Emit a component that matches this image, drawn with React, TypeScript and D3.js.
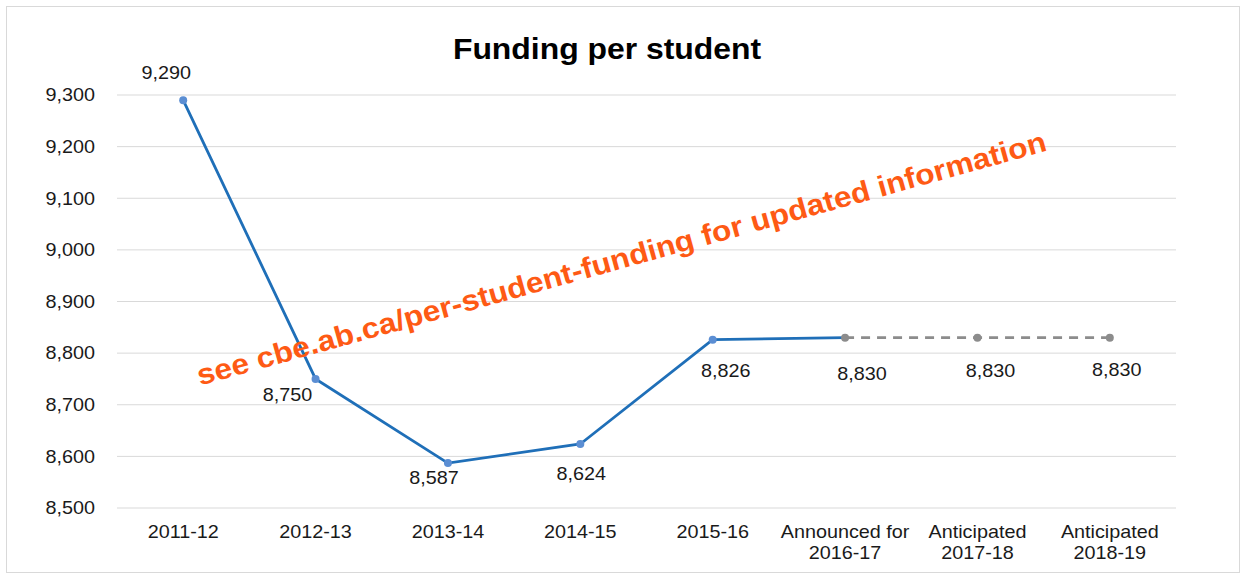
import React from "react";
import * as d3 from "d3";

const categories = [
  ["2011-12"],
  ["2012-13"],
  ["2013-14"],
  ["2014-15"],
  ["2015-16"],
  ["Announced for", "2016-17"],
  ["Anticipated", "2017-18"],
  ["Anticipated", "2018-19"],
];
const actualValues = [9290, 8750, 8587, 8624, 8826, 8830];
const anticipatedValues = [8830, 8830, 8830];
const anticipatedStart = 5;
const yTicks = [8500, 8600, 8700, 8800, 8900, 9000, 9100, 9200, 9300];
const title = "Funding per student";
const watermark = "see cbe.ab.ca/per-student-funding for updated information";
// label offsets (dx, dy) relative to point, per category
const labelOffsets = [
  [-17, -21],
  [-28, 22],
  [-14, 21],
  [1, 36],
  [13, 37],
  [17, 42],
  [13, 39],
  [7, 38],
];

const W = 1242;
const H = 576;
const M = { left: 117, right: 1176, top: 95, bottom: 508 };
const SX = 1.1;

export default function App() {
  const x = d3
    .scaleBand<number>()
    .domain(categories.map((_, i) => i))
    .range([M.left, M.right]);
  const y = d3.scaleLinear().domain([8500, 9300]).range([M.bottom, M.top]);
  const cx = (i: number) => (x(i) as number) + x.bandwidth() / 2;
  const fmt = d3.format(",");
  const line = d3
    .line<[number, number]>()
    .x((d) => cx(d[0]))
    .y((d) => y(d[1]));
  const actual: [number, number][] = actualValues.map((v, i) => [i, v]);
  const anticipated: [number, number][] = anticipatedValues.map((v, i) => [
    i + anticipatedStart,
    v,
  ]);
  const allPoints: [number, number][] = [...actual, ...anticipated.slice(1)];
  const font = "'Liberation Sans', Arial, sans-serif";
  const tr = (px: number, py: number) => `translate(${px},${py}) scale(${SX},1)`;

  return (
    <svg
      width={W}
      height={H}
      style={{ position: "absolute", left: 0, top: 0, background: "#fff" }}
      fontFamily={font}
    >
      <rect x={6.5} y={6.5} width={1233} height={566} fill="#fff" stroke="#d9d9d9" />
      <text
        transform={tr(607, 59)}
        textAnchor="middle"
        fontSize={29}
        fontWeight="bold"
        fill="#000"
      >
        {title}
      </text>
      {yTicks.map((t) => (
        <g key={t}>
          <line
            x1={M.left}
            x2={M.right}
            y1={y(t)}
            y2={y(t)}
            stroke="#d9d9d9"
            strokeWidth={1}
          />
          <text
            transform={tr(95, y(t))}
            dy="0.35em"
            textAnchor="end"
            fontSize={18}
            fill="#1a1a1a"
          >
            {fmt(t)}
          </text>
        </g>
      ))}
      {categories.map((c, i) => (
        <text
          key={i}
          transform={tr(cx(i), 538)}
          textAnchor="middle"
          fontSize={18}
          fill="#1a1a1a"
        >
          {c.map((s, j) => (
            <tspan key={j} x={0} dy={j === 0 ? 0 : 21}>
              {s}
            </tspan>
          ))}
        </text>
      ))}
      <path d={line(actual) || ""} fill="none" stroke="#1f6fb8" strokeWidth={2.8} />
      <path
        d={line(anticipated) || ""}
        fill="none"
        stroke="#8c8c8c"
        strokeWidth={2.8}
        strokeDasharray="9,7"
      />
      {actual.slice(0, anticipatedStart).map((d) => (
        <circle key={"a" + d[0]} cx={cx(d[0])} cy={y(d[1])} r={4} fill="#5b8ed3" />
      ))}
      {anticipated.map((d) => (
        <circle key={"b" + d[0]} cx={cx(d[0])} cy={y(d[1])} r={4} fill="#8c8c8c" />
      ))}
      {allPoints.map((d) => (
        <text
          key={"l" + d[0]}
          transform={tr(
            cx(d[0]) + labelOffsets[d[0]][0],
            y(d[1]) + labelOffsets[d[0]][1]
          )}
          textAnchor="middle"
          fontSize={18}
          fill="#1a1a1a"
        >
          {fmt(d[1])}
        </text>
      ))}
      <text
        transform="translate(624,268) rotate(-15.5)"
        textAnchor="middle"
        fontSize={29}
        fontWeight="bold"
        fill="#fe5a14"
        textLength={880}
        lengthAdjust="spacingAndGlyphs"
      >
        {watermark}
      </text>
    </svg>
  );
}
